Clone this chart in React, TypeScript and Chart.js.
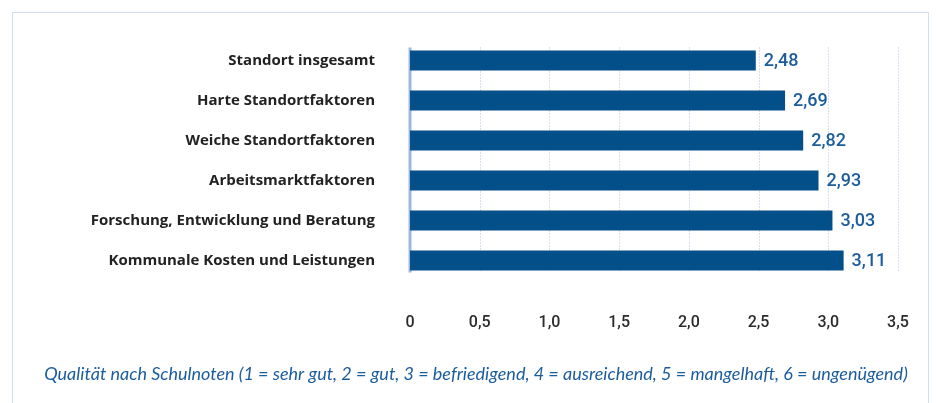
import React, { useEffect, useRef } from "react";
import { Chart, registerables } from "chart.js";

Chart.register(...registerables);

const categories = [
  "Standort insgesamt",
  "Harte Standortfaktoren",
  "Weiche Standortfaktoren",
  "Arbeitsmarktfaktoren",
  "Forschung, Entwicklung und Beratung",
  "Kommunale Kosten und Leistungen",
];
const values = [2.48, 2.69, 2.82, 2.93, 3.03, 3.11];
const xTicks = [0, 0.5, 1, 1.5, 2, 2.5, 3, 3.5];
const caption =
  "Qualität nach Schulnoten (1 = sehr gut, 2 = gut, 3 = befriedigend, 4 = ausreichend, 5 = mangelhaft, 6 = ungenügend)";

const fmtTick = (v: number) => (v === 0 ? "0" : v.toFixed(1).replace(".", ","));
const fmtVal = (v: number) => v.toFixed(2).replace(".", ",");

const FONT = "'Open Sans', Lato, sans-serif";
const NUM_FONT = "Roboto, 'Open Sans', sans-serif";
const CAP_FONT = "Lato, 'Open Sans', sans-serif";

const zeroPad = (s: any) => {
  s.paddingLeft = 0;
  s.paddingRight = 0;
  s.paddingTop = 0;
  s.paddingBottom = 0;
};

const decorPlugin = {
  id: "decor",
  beforeDatasetsDraw(chart: any) {
    const { ctx, scales } = chart;
    const x = scales.x;
    const meta = chart.getDatasetMeta(0);
    const first = meta.data[0];
    const last = meta.data[meta.data.length - 1];
    const top = first.y - first.height / 2 - 3;
    const bottom = last.y + last.height / 2 + 2;
    ctx.save();
    ctx.strokeStyle = "#a9c1e3";
    ctx.lineWidth = 1;
    ctx.setLineDash([1, 2]);
    for (const t of xTicks) {
      if (t === 0) continue;
      const px = Math.round(x.getPixelForValue(t)) + 0.5;
      ctx.beginPath();
      ctx.moveTo(px, top);
      ctx.lineTo(px, bottom);
      ctx.stroke();
    }
    ctx.setLineDash([]);
    ctx.strokeStyle = "#9db8df";
    ctx.lineWidth = 3;
    const x0 = x.getPixelForValue(0);
    ctx.beginPath();
    ctx.moveTo(x0, top);
    ctx.lineTo(x0, bottom);
    ctx.stroke();
    ctx.restore();
  },
  afterDatasetsDraw(chart: any) {
    const { ctx } = chart;
    const meta = chart.getDatasetMeta(0);
    ctx.save();
    ctx.font = `500 18px ${NUM_FONT}`;
    ctx.fillStyle = "#1b5c9c";
    ctx.textAlign = "left";
    ctx.textBaseline = "middle";
    meta.data.forEach((bar: any, i: number) => {
      ctx.fillText(fmtVal(values[i]), bar.x + 8, bar.y + 1);
    });
    ctx.font = `italic 18px ${CAP_FONT}`;
    ctx.textAlign = "center";
    ctx.fillText(caption, (chart.width + 16) / 2, 374);
    ctx.restore();
  },
};

export default function App() {
  const ref = useRef<HTMLCanvasElement>(null);
  useEffect(() => {
    if (!ref.current) return;
    const chart = new Chart(ref.current, {
      type: "bar",
      data: {
        labels: categories,
        datasets: [
          {
            data: values,
            backgroundColor: "#034f8a",
            borderWidth: 0,
            barPercentage: 0.5,
            categoryPercentage: 1,
          },
        ],
      },
      options: {
        indexAxis: "y",
        responsive: false,
        maintainAspectRatio: false,
        animation: false,
        layout: { padding: { top: 40.5, right: 38, left: 0, bottom: 0 } },
        plugins: {
          legend: { display: false },
          tooltip: { enabled: false },
          title: { display: false },
        },
        scales: {
          x: {
            min: 0,
            max: 3.5,
            afterBuildTicks: (s: any) => {
              s.ticks = xTicks.map((v) => ({ value: v }));
            },
            afterFit: (s: any) => {
              s.height = 122.5;
              zeroPad(s);
            },
            grid: { display: false, drawTicks: false },
            border: { display: false },
            ticks: {
              padding: 33,
              color: "#2b2b2b",
              font: { family: NUM_FONT, size: 16, weight: "500" },
              callback: (v: any) => fmtTick(Number(v)),
              maxRotation: 0,
              autoSkip: false,
            },
          },
          y: {
            afterFit: (s: any) => {
              s.width = 410;
              zeroPad(s);
            },
            grid: { display: false, drawTicks: false },
            border: { display: false },
            ticks: {
              padding: 35,
              color: "#222222",
              font: { family: FONT, size: 15, weight: "bold" },
            },
          },
        },
      },
      plugins: [decorPlugin],
    } as any);
    return () => chart.destroy();
  }, []);

  return (
    <div style={{ position: "fixed", left: 0, top: 0, width: 936, height: 403, background: "#fff" }}>
      <div
        style={{
          position: "absolute",
          left: 12,
          top: 12,
          width: 917,
          height: 400,
          border: "1px solid #cfdef0",
          boxSizing: "border-box",
        }}
      />
      <canvas ref={ref} width={936} height={403} style={{ position: "absolute", left: 0, top: 0 }} />
    </div>
  );
}
